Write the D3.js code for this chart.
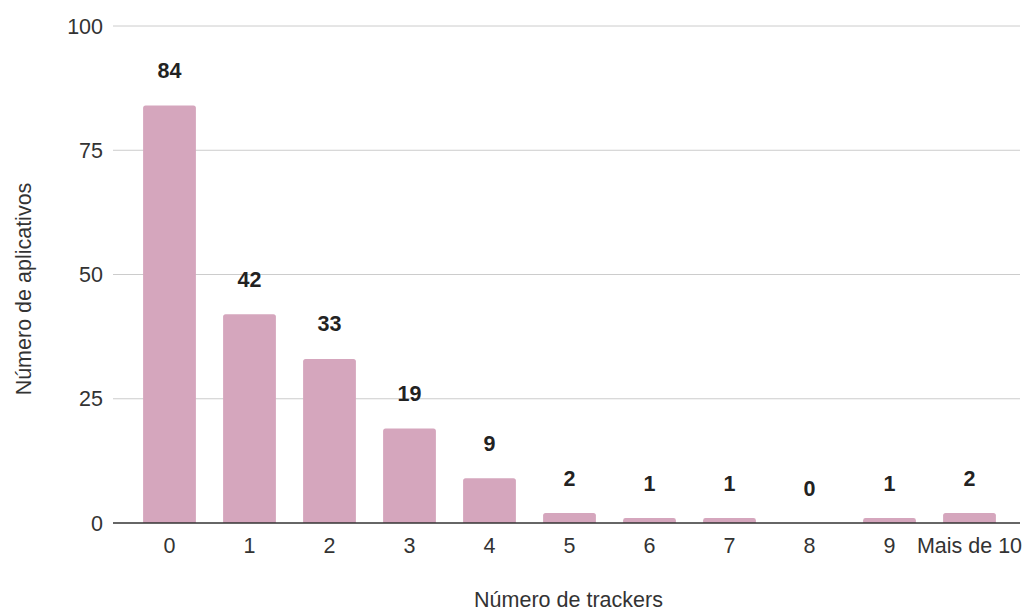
<!DOCTYPE html>
<html>
<head>
<meta charset="utf-8">
<script src="https://cdn.jsdelivr.net/npm/d3@7"></script>
<style>
  html, body { margin: 0; padding: 0; background: #fff; }
  svg { display: block; font-family: "Liberation Sans", Arial, sans-serif; }
</style>
</head>
<body>
<svg id="chart" width="1024" height="613"></svg>
<script>
// Número de aplicativos por quantidade de trackers
const categories = ["0", "1", "2", "3", "4", "5", "6", "7", "8", "9", "Mais de 10"];
const counts = [84, 42, 33, 19, 9, 2, 1, 1, 0, 1, 2];
const yTicks = [0, 25, 50, 75, 100];

const svg = d3.select("#chart");
const gridLeft = 113, gridRight = 1020;
const fs = 21.5;

const x = d3.scaleBand()
  .domain(categories)
  .range([129.5, 1009.5])
  .paddingInner(0.34)
  .paddingOuter(0.17);

const y = d3.scaleLinear().domain([0, 100]).range([523, 26]);

// horizontal gridlines
svg.append("g")
  .selectAll("line")
  .data(yTicks.filter(d => d !== 0))
  .join("line")
  .attr("x1", gridLeft).attr("x2", gridRight)
  .attr("y1", d => y(d)).attr("y2", d => y(d))
  .attr("stroke", "#cccccc").attr("stroke-width", 1);

// y tick labels
svg.append("g")
  .selectAll("text")
  .data(yTicks)
  .join("text")
  .attr("x", 103)
  .attr("y", d => y(d))
  .attr("dy", "0.36em")
  .attr("text-anchor", "end")
  .attr("font-size", fs)
  .attr("fill", "#333")
  .text(d => d);

// bars with slightly rounded tops
const r = 2.5;
svg.append("g")
  .selectAll("path")
  .data(categories.map((c, i) => ({ c, v: counts[i] })).filter(d => d.v > 0))
  .join("path")
  .attr("fill", "#d5a6bd")
  .attr("d", d => {
    const x0 = x(d.c), w = x.bandwidth(), y0 = y(d.v), b = y(0);
    const rr = Math.min(r, (b - y0) / 2);
    return `M${x0},${b} V${y0 + rr} Q${x0},${y0} ${x0 + rr},${y0} H${x0 + w - rr} Q${x0 + w},${y0} ${x0 + w},${y0 + rr} V${b} Z`;
  });

// baseline
svg.append("line")
  .attr("x1", gridLeft).attr("x2", gridRight)
  .attr("y1", y(0)).attr("y2", y(0))
  .attr("stroke", "#333").attr("stroke-width", 1.3);

// value labels
svg.append("g")
  .selectAll("text")
  .data(categories.map((c, i) => ({ c, v: counts[i] })))
  .join("text")
  .attr("x", d => x(d.c) + x.bandwidth() / 2)
  .attr("y", d => y(d.v) - 27.5)
  .attr("text-anchor", "middle")
  .attr("font-size", fs)
  .attr("font-weight", "bold")
  .attr("fill", "#222")
  .text(d => d.v);

// x tick labels
svg.append("g")
  .selectAll("text")
  .data(categories)
  .join("text")
  .attr("x", d => x(d) + x.bandwidth() / 2)
  .attr("y", 553)
  .attr("text-anchor", "middle")
  .attr("font-size", fs)
  .attr("fill", "#333")
  .text(d => d);

// axis titles
svg.append("text")
  .attr("x", 568.5).attr("y", 607)
  .attr("text-anchor", "middle")
  .attr("font-size", fs)
  .attr("fill", "#333")
  .text("Número de trackers");

svg.append("text")
  .attr("transform", "translate(31,289) rotate(-90)")
  .attr("text-anchor", "middle")
  .attr("font-size", fs)
  .attr("fill", "#333")
  .text("Número de aplicativos");
</script>
</body>
</html>
